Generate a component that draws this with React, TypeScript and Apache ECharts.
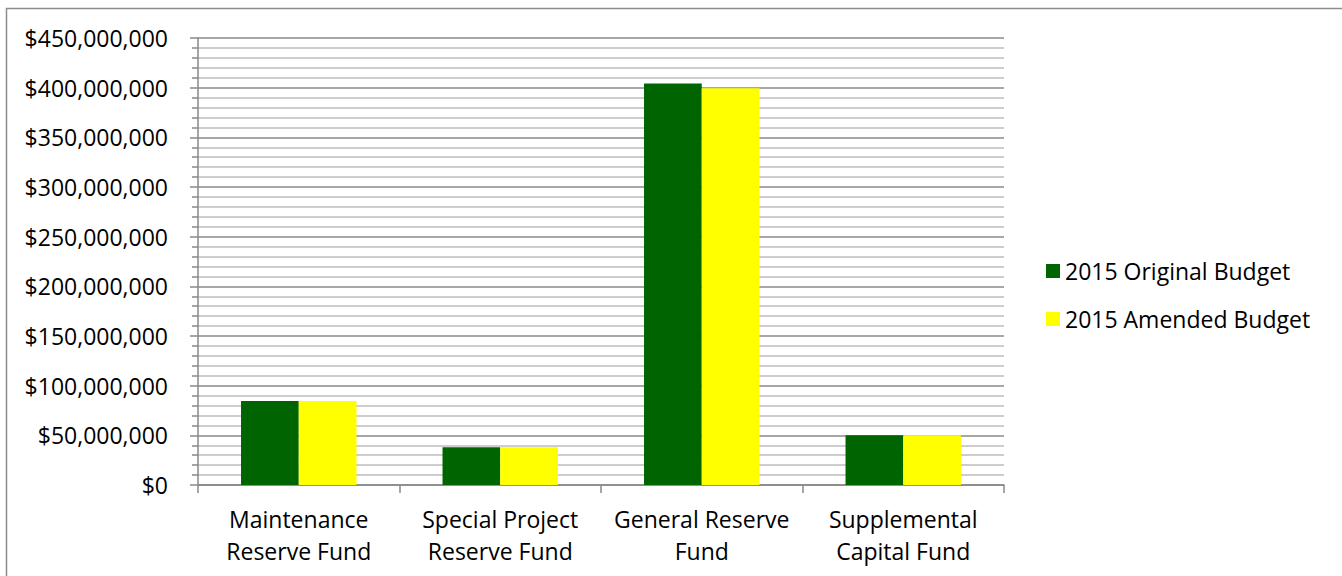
import React, { useEffect, useRef } from "react";
import * as echarts from "echarts";

const categories = [
  "Maintenance\nReserve Fund",
  "Special Project\nReserve Fund",
  "General Reserve\nFund",
  "Supplemental\nCapital Fund",
];
const seriesNames = ["2015 Original Budget", "2015 Amended Budget"];
const originalBudget = [84500000, 37900000, 404100000, 50200000];
const amendedBudget = [84500000, 37900000, 399400000, 50200000];
const colors = ["#006400", "#FFFF00"];

const FONT = "'Open Sans', 'Noto Sans', sans-serif";

export default function App() {
  const ref = useRef<HTMLDivElement>(null);
  useEffect(() => {
    if (!ref.current) return;
    const chart = echarts.init(ref.current, null, { renderer: "svg" });
    chart.setOption({
      animation: false,
      backgroundColor: "#ffffff",
      textStyle: { fontFamily: FONT },
      graphic: [
        {
          type: "rect",
          shape: { x: 6.5, y: 8.5, width: 1400, height: 600 },
          style: { fill: "none", stroke: "#8c8c8c", lineWidth: 1.5 },
          silent: true,
        },
      ],
      grid: {
        left: 198,
        right: 338,
        top: 38,
        bottom: 91,
        outerBoundsMode: "none",
        containLabel: false,
      },
      legend: {
        orient: "vertical",
        left: 1041,
        top: 253,
        itemWidth: 14,
        itemHeight: 14,
        itemGap: 22,
        icon: "rect",
        data: seriesNames,
        textStyle: {
          fontFamily: FONT,
          fontSize: 23,
          color: "#000",
          lineHeight: 26,
        },
      },
      xAxis: {
        type: "category",
        data: categories,
        axisLine: { show: true, lineStyle: { color: "#888", width: 1.5 } },
        axisTick: { show: true, length: 8, lineStyle: { color: "#888", width: 1.5 } },
        axisLabel: {
          fontFamily: FONT,
          fontSize: 23,
          color: "#000",
          lineHeight: 32,
          margin: 18,
          interval: 0,
        },
        splitLine: { show: false },
      },
      yAxis: {
        type: "value",
        min: 0,
        max: 450000000,
        interval: 50000000,
        axisLine: { show: true, lineStyle: { color: "#888", width: 1.5 } },
        axisTick: { show: true, length: 8, lineStyle: { color: "#888", width: 1.5 } },
        minorTick: { show: true, splitNumber: 5, length: 6, lineStyle: { color: "#888", width: 1.5 } },
        minorSplitLine: { show: true, lineStyle: { color: "#bdbdbd", width: 1.5 } },
        splitLine: { show: true, lineStyle: { color: "#8a8a8a", width: 1.5 } },
        axisLabel: {
          fontFamily: FONT,
          fontSize: 23,
          color: "#000",
          margin: 30,
          formatter: (v: number) => "$" + v.toLocaleString("en-US"),
        },
      },
      series: [
        {
          name: seriesNames[0],
          type: "bar",
          data: originalBudget,
          itemStyle: { color: colors[0] },
          barGap: "0%",
          barCategoryGap: "42.7%",
        },
        {
          name: seriesNames[1],
          type: "bar",
          data: amendedBudget,
          itemStyle: { color: colors[1] },
          barGap: "0%",
          barCategoryGap: "42.7%",
        },
      ],
    });
    return () => chart.dispose();
  }, []);
  return (
    <div
      ref={ref}
      style={{ position: "fixed", left: 0, top: 0, width: 1342, height: 576 }}
    />
  );
}
